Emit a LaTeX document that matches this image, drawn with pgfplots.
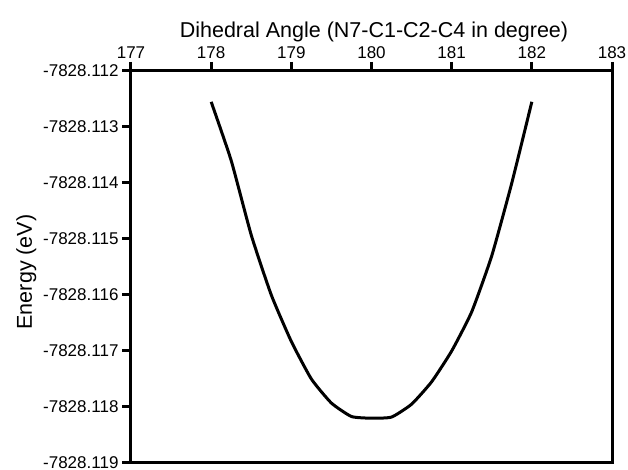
\documentclass[border=0pt]{standalone}
\usepackage{pgfplots}
\pgfplotsset{compat=1.18}
\usepackage{pgfplotstable}
\usepackage{fontspec}
\setmainfont{Liberation Sans}
% Energy column: E + 7828 (eV), so E = -7828 + value
\pgfplotstableread{
angle dE
178.00 -0.11255
178.25 -0.11360
178.50 -0.11493
178.75 -0.11600
179.00 -0.11683
179.25 -0.11750
179.50 -0.11793
179.75 -0.11817
180.00 -0.11820
180.25 -0.11818
180.50 -0.11795
180.75 -0.11755
181.00 -0.11700
181.25 -0.11630
181.50 -0.11530
181.75 -0.11400
182.00 -0.11255
}\energy
\begin{document}
\begin{tikzpicture}
\path[use as bounding box] (-131pt,-7pt) rectangle (497pt,463pt);
\begin{axis}[
  at={(0,0)}, anchor=south west,
  scale only axis,
  width=481pt, height=392pt,
  xmin=177, xmax=183, ymin=-0.119, ymax=-0.112,
  xtick={177,178,179,180,181,182,183},
  xticklabels={177,178,179,180,181,182,183},
  ytick={-0.119,-0.118,-0.117,-0.116,-0.115,-0.114,-0.113,-0.112},
  yticklabels={-7828.119,-7828.118,-7828.117,-7828.116,-7828.115,-7828.114,-7828.113,-7828.112},
  xtick pos=right, xticklabel pos=right,
  ytick pos=left, yticklabel pos=left,
  tick align=outside,
  major tick length=9pt,
  every major tick/.append style={black, line width=3pt},
  axis line style={line width=3pt},
  every tick label/.append style={font=\fontsize{17}{19}\selectfont},
  xlabel={Dihedral Angle (N7-C1-C2-C4 in degree)},
  ylabel={Energy (eV)},
  xlabel style={font=\fontsize{21.5}{24}\selectfont, yshift=-2pt, xshift=2.5pt},
  ylabel style={font=\fontsize{21.5}{24}\selectfont, xshift=-5pt},
  clip=false,
]
\addplot[black, line width=3pt, line join=round, smooth, tension=0.3] table[x=angle, y=dE] {\energy};
\end{axis}
\end{tikzpicture}
\end{document}
